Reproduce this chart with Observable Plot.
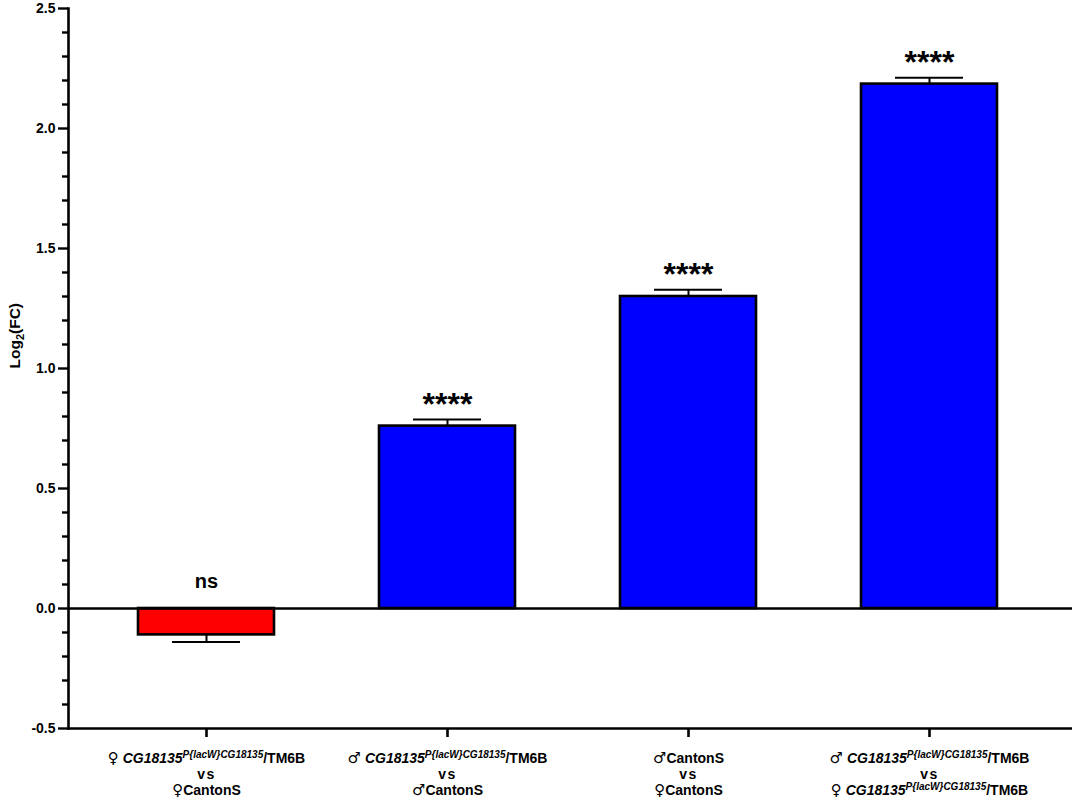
<!DOCTYPE html>
<html>
<head>
<meta charset="utf-8">
<script src="https://cdn.jsdelivr.net/npm/d3@7"></script>
<script src="https://cdn.jsdelivr.net/npm/@observablehq/plot@0.6"></script>
<style>
  html, body { margin: 0; padding: 0; background: #fff; }
  #chart svg { display: block; font-family: "Liberation Sans", Arial, "DejaVu Sans", sans-serif; }
</style>
</head>
<body>
<div id="chart"></div>
<script>
// ---- data ----
const comparisons = ["fMut_vs_fCS", "mMut_vs_mCS", "mCS_vs_fCS", "mMut_vs_fMut"];
const log2FC = [-0.11, 0.76, 1.30, 2.185];
const sem = [0.03, 0.027, 0.028, 0.026];
const significance = ["ns", "****", "****", "****"];
const barColors = ["#FF0000", "#0000FF", "#0000FF", "#0000FF"];
const labelTop = ["♀ MUT", "♂ MUT", "♂CantonS", "♂ MUT"];
const labelMid = ["vs", "vs", "vs", "vs"];
const labelBottom = ["♀CantonS", "♂CantonS", "♀CantonS", "♀ MUT"];
const mutantGene = "CG18135";
const mutantAllele = "P{lacW}CG18135";
const mutantBalancer = "/TM6B";
const majorTicks = [-0.5, 0, 0.5, 1.0, 1.5, 2.0, 2.5];
const minorTicks = d3.range(-5, 26).map(d => d / 10).filter(d => Math.abs(d * 2 - Math.round(d * 2)) > 1e-9);
const yLabelParts = ["Log", "2", "(FC)"];

const data = comparisons.map((c, i) => ({
  comparison: c,
  value: log2FC[i],
  err: log2FC[i] < 0 ? log2FC[i] - sem[i] : log2FC[i] + sem[i],
  sig: significance[i],
  color: barColors[i],
  lines: [labelTop[i], labelMid[i], labelBottom[i]]
}));

function writeRich(textSel, str) {
  const tokens = str.split(/(MUT|♀|♂)/).filter(s => s !== "");
  tokens.forEach(tok => {
    if (tok === "MUT") {
      textSel.append("tspan").attr("font-style", "italic").text(mutantGene);
      textSel.append("tspan").attr("font-style", "italic").attr("font-size", 10).attr("dy", -5).text(mutantAllele);
      textSel.append("tspan").attr("dy", 5).text(mutantBalancer);
    } else if (tok === "♀" || tok === "♂") {
      textSel.append("tspan").attr("font-family", "'DejaVu Sans', sans-serif").attr("font-weight", "normal").attr("font-size", 15).text(tok);
    } else if (tok === "vs") {
      textSel.append("tspan").attr("letter-spacing", 1.5).text(tok);
    } else {
      textSel.append("tspan").text(tok);
    }
  });
}

const lineOffsets = [34, 50.5, 66.5];

const chart = Plot.plot({
  width: 1072,
  height: 799,
  marginLeft: 68,
  marginRight: 0,
  marginTop: 8,
  marginBottom: 71,
  style: { fontFamily: "'Liberation Sans', Arial, sans-serif", background: "#fff" },
  x: { domain: comparisons, paddingInner: 0.437, paddingOuter: 0.297, align: 0.481, label: null },
  y: { domain: [-0.5, 2.5], label: null },
  marks: [
    Plot.barY(data, { x: "comparison", y: "value", fill: "color", stroke: "#000", strokeWidth: 2.6 }),
    Plot.ruleX(data, { x: "comparison", y1: "value", y2: "err", stroke: "#000", strokeWidth: 2 }),
    Plot.tickY(data, { x: "comparison", y: "err", stroke: "#000", strokeWidth: 2, insetLeft: 34, insetRight: 34 }),
    Plot.ruleY([0], { stroke: "#000", strokeWidth: 2.4 }),
    Plot.ruleY([-0.5], { stroke: "#000", strokeWidth: 2.6 }),
    Plot.frame({ anchor: "left", stroke: "#000", strokeWidth: 2.6 }),
    Plot.axisY({ ticks: majorTicks, tickSize: 10, tickPadding: 3, tickFormat: d => d.toFixed(1), fontSize: 14, fontWeight: "bold", strokeWidth: 2.4, label: null }),
    Plot.axisY({ ticks: minorTicks, tickSize: 6, tickFormat: () => "", strokeWidth: 2.4, label: null }),
    Plot.axisX({ tickSize: 9, tickFormat: () => "", strokeWidth: 2.6, label: null }),
    Plot.text(data.filter(d => d.sig !== "ns"), { x: "comparison", y: "err", text: "sig", fontSize: 32, fontWeight: "bold", fill: "#000", lineAnchor: "middle", dy: -15 }),
    Plot.text(data.filter(d => d.sig === "ns"), { x: "comparison", y: d => Math.max(0, d.err), text: "sig", fontSize: 20, fontWeight: "bold", fill: "#000", lineAnchor: "middle", dy: -27 }),
    // rich x tick labels (three lines, italic gene names with superscript allele)
    Plot.text(data, {
      x: "comparison", frameAnchor: "bottom", text: d => d.lines.join(" "),
      render(index, scales, values, dimensions, context, next) {
        const g = next(index, scales, values, dimensions, context);
        const texts = Array.from(g.querySelectorAll("text"));
        const idx = Array.from(index);
        texts.forEach((t, k) => {
          const d = data[idx[k]];
          d.lines.forEach((ln, j) => {
            const sub = d3.select(g).append("text")
              .attr("transform", t.getAttribute("transform"))
              .attr("x", t.getAttribute("x")).attr("y", t.getAttribute("y"))
              .attr("dy", lineOffsets[j])
              .attr("font-size", 14).attr("font-weight", "bold").attr("text-anchor", "middle")
              .attr("fill", "#000");
            writeRich(sub, ln);
          });
          t.remove();
        });
        return g;
      }
    }),
    // y axis label with subscript
    Plot.text([yLabelParts], {
      frameAnchor: "left", text: d => d.join(""), rotate: -90, dx: -53, fontSize: 15.5, fontWeight: "bold", fill: "#000",
      render(index, scales, values, dimensions, context, next) {
        const g = next(index, scales, values, dimensions, context);
        const sel = d3.select(g.querySelector("text"));
        sel.text(null);
        sel.append("tspan").text(yLabelParts[0]);
        sel.append("tspan").attr("font-size", 11).attr("dy", 4).text(yLabelParts[1]);
        sel.append("tspan").attr("dy", -4).text(yLabelParts[2]);
        return g;
      }
    })
  ]
});

document.getElementById("chart").appendChild(chart);
</script>
</body>
</html>
